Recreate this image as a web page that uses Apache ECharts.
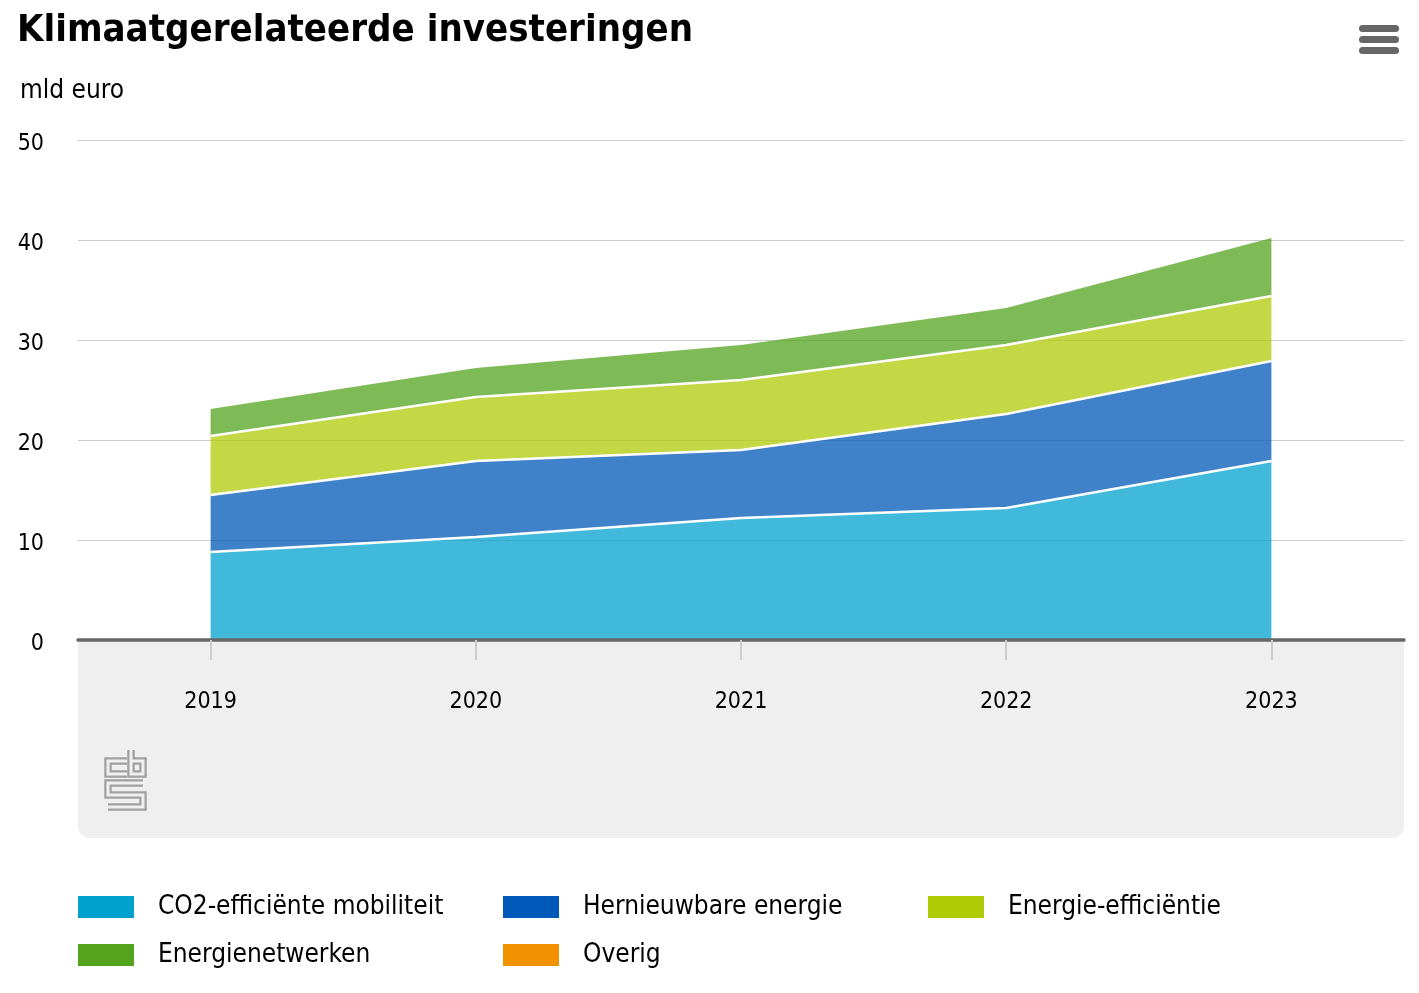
<!DOCTYPE html>
<html>
<head>
<meta charset="utf-8">
<script src="https://cdn.jsdelivr.net/npm/echarts@6/dist/echarts.min.js"></script>
<style>
html,body{margin:0;padding:0;background:#fff;}
#chart{width:1419px;height:993px;}
</style>
</head>
<body>
<div id="chart"></div>
<script>
var FONT = "'Liberation Sans Narrow', 'DejaVu Sans Condensed', 'Noto Sans', sans-serif";
var years = ['2019', '2020', '2021', '2022', '2023'];
var seriesNames = ['CO2-efficiënte mobiliteit', 'Hernieuwbare energie', 'Energie-efficiëntie', 'Energienetwerken', 'Overig'];
var co2Mobiliteit = [8.8, 10.3, 12.2, 13.2, 17.9];
var hernieuwbaar = [5.7, 7.6, 6.8, 9.4, 10.0];
var energieEfficientie = [5.9, 6.4, 7.0, 6.9, 6.5];
var energienetwerken = [2.7, 2.9, 3.5, 3.7, 5.8];
var overig = [0, 0, 0, 0, 0];
var yTicks = [0, 10, 20, 30, 40, 50];
var colors = ['#00a1cd', '#0058b8', '#afcb05', '#53a31d', '#f39200'];

var chart = echarts.init(document.getElementById('chart'));
var dataSets = [co2Mobiliteit, hernieuwbaar, energieEfficientie, energienetwerken, overig];
var series = dataSets.map(function (d, i) {
  var withLine = i < 3;
  return {
    name: seriesNames[i],
    type: 'line',
    stack: 'total',
    data: d,
    z: 10 - i,
    symbol: 'none',
    showSymbol: false,
    lineStyle: { color: '#ffffff', width: withLine ? 2.5 : 0, opacity: withLine ? 1 : 0 },
    areaStyle: { color: colors[i], opacity: i === 4 ? 0 : 0.75 },
    itemStyle: { color: colors[i] },
    emphasis: { disabled: true }
  };
});

var logoLines = [
  [[127, 761], [108, 761], [108, 774], [127, 774]],
  [[131, 750], [131, 774], [143, 774], [143, 761], [131, 761]],
  [[143, 783], [108, 783], [108, 795], [143, 795], [143, 807], [108, 807]]
];
var graphics = [
  { type: 'rect', z: -10, shape: { x: 78, y: 641, width: 1326, height: 197, r: [0, 0, 12, 12] }, style: { fill: '#efefef' } },
  { type: 'rect', shape: { x: 1359, y: 25, width: 40, height: 7, r: 3.5 }, style: { fill: '#666666' } },
  { type: 'rect', shape: { x: 1359, y: 36, width: 40, height: 7, r: 3.5 }, style: { fill: '#666666' } },
  { type: 'rect', shape: { x: 1359, y: 47, width: 40, height: 7, r: 3.5 }, style: { fill: '#666666' } }
];
logoLines.forEach(function (p) {
  graphics.push({ type: 'polyline', z: 5, shape: { points: p }, style: { stroke: '#a0a0a0', lineWidth: 7.5, fill: null, lineJoin: 'miter', lineCap: 'butt' } });
  graphics.push({ type: 'polyline', z: 6, shape: { points: p }, style: { stroke: '#efefef', lineWidth: 3, fill: null, lineJoin: 'miter', lineCap: 'butt' } });
});

chart.setOption({
  animation: false,
  color: colors,
  title: [
    { text: 'Klimaatgerelateerde investeringen', left: 17, top: 12, padding: 0, textStyle: { fontFamily: FONT, fontSize: 38, fontWeight: 'bold', color: '#000' } },
    { text: 'mld euro', left: 20, top: 78, padding: 0, textStyle: { fontFamily: FONT, fontSize: 26, fontWeight: 'normal', color: '#000' } }
  ],
  grid: { left: 78, right: 15, top: 140, bottom: 353, containLabel: false },
  legend: {
    left: 78, top: 893, width: 1326, padding: 0,
    itemWidth: 56, itemHeight: 22, itemGap: 20,
    icon: 'rect',
    selectedMode: false,
    textStyle: { fontFamily: FONT, fontSize: 26, color: '#000', width: 325, lineHeight: 28, padding: [0, 0, 0, 19] },
    data: seriesNames.map(function (n, i) { return { name: n, itemStyle: { color: colors[i], opacity: 1 } }; })
  },
  xAxis: {
    type: 'category',
    data: years,
    boundaryGap: true,
    axisLine: { show: true, lineStyle: { color: '#666666', width: 3.5 } },
    axisTick: { show: true, alignWithLabel: true, length: 20, lineStyle: { color: '#cccccc', width: 2 } },
    axisLabel: { fontFamily: FONT, fontSize: 23, color: '#000', margin: 51 },
    z: 12
  },
  yAxis: {
    type: 'value',
    min: 0, max: 50, interval: 10,
    axisLine: { show: false },
    axisTick: { show: false },
    axisLabel: {
      fontFamily: FONT, fontSize: 23, color: '#000', margin: 34,
      formatter: function (v) { return yTicks.indexOf(v) >= 0 ? '{a|' + v + '}' : ''; },
      rich: { a: { fontFamily: FONT, fontSize: 23, color: '#000', padding: [8, 0, 0, 0] } }
    },
    splitLine: { lineStyle: { color: '#cccccc', width: 1.2 } }
  },
  graphic: graphics,
  series: series
});
</script>
</body>
</html>
